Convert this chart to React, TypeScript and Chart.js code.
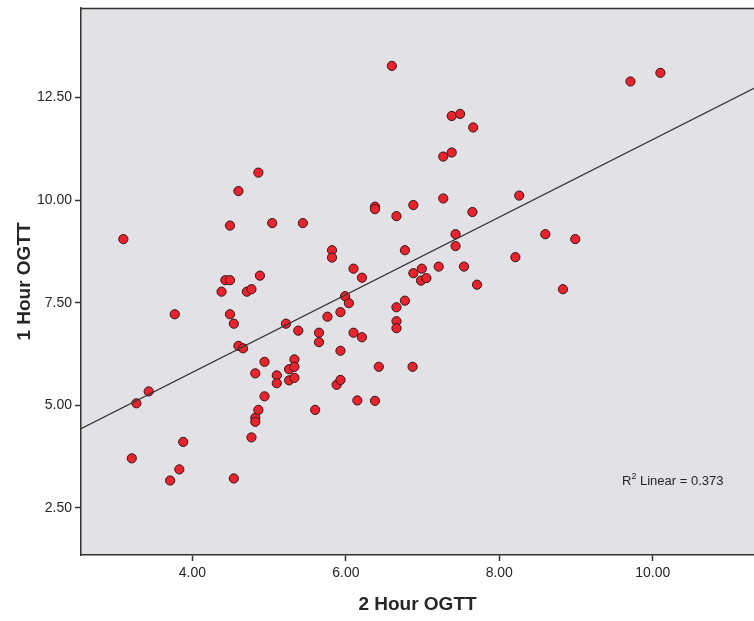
import React, { useEffect, useRef } from "react";
import { Chart, registerables } from "chart.js";

Chart.register(...registerables);

// 2 Hour OGTT (x) and 1 Hour OGTT (y), one entry per subject
const hour2 = [
  3.10, 3.21, 3.27, 3.43, 3.71, 3.83, 3.77, 3.88, 4.38, 4.43,
  4.49, 4.49, 4.49, 4.54, 4.54, 4.60, 4.60, 4.66, 4.71, 4.77,
  4.77, 4.82, 4.82, 4.82, 4.86, 4.86, 4.88, 4.94, 4.94, 5.04,
  5.10, 5.10, 5.22, 5.26, 5.26, 5.33, 5.33, 5.33, 5.38, 5.44,
  5.60, 5.65, 5.65, 5.76, 5.82, 5.82, 5.88, 5.93, 5.93, 5.93,
  5.99, 6.04, 6.10, 6.10, 6.15, 6.21, 6.21, 6.38, 6.38, 6.38,
  6.43, 6.60, 6.66, 6.66, 6.66, 6.66, 6.77, 6.77, 6.88, 6.88,
  6.87, 6.99, 6.98, 7.05, 7.21, 7.27, 7.27, 7.38, 7.49, 7.38,
  7.43, 7.43, 7.54, 7.66, 7.65, 7.71, 8.21, 8.26, 8.60, 8.83,
  8.99, 9.71, 10.10,
];
const hour1 = [
  9.05, 3.71, 5.05, 5.34, 3.17, 3.44, 7.22, 4.11, 7.77, 8.05,
  8.05, 9.38, 7.22, 6.99, 3.22, 10.22, 6.45, 6.39, 7.77, 7.83,
  4.22, 5.78, 4.70, 4.60, 4.89, 10.67, 8.16, 6.06, 5.22, 9.44,
  5.73, 5.54, 6.99, 5.88, 5.61, 6.12, 5.94, 5.67, 6.82, 9.44,
  4.89, 6.77, 6.54, 7.16, 8.78, 8.60, 5.50, 5.62, 7.27, 6.33,
  7.66, 7.49, 8.33, 6.77, 5.12, 8.11, 6.66, 9.84, 9.78, 5.11,
  5.94, 13.27, 9.61, 7.39, 7.05, 6.88, 8.78, 7.55, 9.88, 8.22,
  5.94, 8.33, 8.04, 8.10, 8.38, 11.06, 10.04, 12.05, 12.10, 11.16,
  9.17, 8.88, 8.38, 11.77, 9.71, 7.94, 8.61, 10.11, 9.17, 7.83,
  9.05, 12.89, 13.10,
];

const xTicks = [4, 6, 8, 10];
const yTicks = [2.5, 5, 7.5, 10, 12.5];
const xRange = [2.548, 11.32];
const yRange = [1.355, 14.68];

// Linear fit line
const fitIntercept = 2.025;
const fitSlope = 0.945;
const rSquared = "0.373";

const FONT = "Arial, 'Liberation Sans', sans-serif";
const TEXT = "#262626";
const AXIS = "#333333";

export default function App() {
  const ref = useRef<HTMLCanvasElement | null>(null);

  useEffect(() => {
    const canvas = ref.current;
    if (!canvas) return;

    const points = hour2.map((x, i) => ({ x, y: hour1[i] }));
    const fitLine = xRange.map((x) => ({ x, y: fitIntercept + fitSlope * x }));

    const framePlugin = {
      id: "frame",
      beforeDraw(chart: any) {
        const { ctx, chartArea } = chart;
        ctx.save();
        ctx.fillStyle = "#e1e1e6";
        ctx.fillRect(chartArea.left, chartArea.top, chartArea.right - chartArea.left, chartArea.bottom - chartArea.top);
        ctx.restore();
      },
      afterDraw(chart: any) {
        const { ctx, chartArea } = chart;
        ctx.save();
        ctx.strokeStyle = AXIS;
        ctx.lineWidth = 1.5;
        ctx.beginPath();
        ctx.moveTo(chartArea.left, chartArea.top + 0.5);
        ctx.lineTo(chartArea.right, chartArea.top + 0.5);
        ctx.stroke();
        // R² annotation
        ctx.fillStyle = TEXT;
        ctx.textBaseline = "alphabetic";
        ctx.textAlign = "left";
        let x = chartArea.right - 132;
        const y = chartArea.bottom - 70;
        ctx.font = `13px ${FONT}`;
        ctx.fillText("R", x, y);
        x += ctx.measureText("R").width;
        ctx.font = `9px ${FONT}`;
        ctx.fillText("2", x, y - 6);
        x += ctx.measureText("2").width;
        ctx.font = `13px ${FONT}`;
        ctx.fillText(` Linear = ${rSquared}`, x, y);
        ctx.restore();
      },
    };

    const chart = new Chart(canvas, {
      type: "scatter",
      data: {
        datasets: [
          {
            label: "Fit",
            data: fitLine,
            showLine: true,
            borderColor: "#333333",
            borderWidth: 1.2,
            pointRadius: 0,
            fill: false,
          } as any,
          {
            label: "1 Hour OGTT",
            data: points,
            pointRadius: 4.6,
            pointBackgroundColor: "#e8232d",
            pointBorderColor: "#3b1414",
            pointBorderWidth: 1,
          },
        ],
      },
      options: {
        responsive: false,
        animation: false,
        layout: { autoPadding: false, padding: { top: 8, right: 0, bottom: 0, left: 0 } },
        plugins: {
          legend: { display: false },
          tooltip: { enabled: false },
        },
        scales: {
          x: {
            type: "linear",
            min: xRange[0],
            max: xRange[1],
            afterBuildTicks: (scale: any) => {
              scale.ticks = xTicks.map((v) => ({ value: v }));
            },
            afterFit: (scale: any) => {
              scale.height = 66;
              scale.paddingLeft = 0;
              scale.paddingRight = 0;
            },
            grid: {
              display: true,
              drawOnChartArea: false,
              drawTicks: true,
              tickLength: 6,
              tickColor: AXIS,
              tickWidth: 1.5,
            },
            border: { display: true, color: AXIS, width: 1.5 },
            ticks: {
              color: TEXT,
              font: { family: FONT, size: 14 },
              padding: 4,
              maxRotation: 0,
              callback: (v: any) => Number(v).toFixed(2),
            },
            title: {
              display: true,
              text: "2 Hour OGTT",
              color: TEXT,
              font: { family: FONT, size: 19, weight: "bold" },
              padding: { top: 0, bottom: 5 },
            },
          },
          y: {
            type: "linear",
            min: yRange[0],
            max: yRange[1],
            afterBuildTicks: (scale: any) => {
              scale.ticks = yTicks.map((v) => ({ value: v }));
            },
            afterFit: (scale: any) => {
              scale.width = 81;
              scale.paddingTop = 0;
              scale.paddingBottom = 0;
            },
            grid: {
              display: true,
              drawOnChartArea: false,
              drawTicks: true,
              tickLength: 6,
              tickColor: AXIS,
              tickWidth: 1.5,
            },
            border: { display: true, color: AXIS, width: 1.5 },
            ticks: {
              color: TEXT,
              font: { family: FONT, size: 14 },
              padding: 3,
              callback: (v: any) => Number(v).toFixed(2),
            },
            title: {
              display: true,
              text: "1 Hour OGTT",
              color: TEXT,
              font: { family: FONT, size: 19, weight: "bold" },
              padding: { top: 13, bottom: 0 },
            },
          },
        },
      },
      plugins: [framePlugin],
    } as any);

    return () => chart.destroy();
  }, []);

  return (
    <div style={{ position: "fixed", left: 0, top: 0, width: 754, height: 621, background: "#ffffff", overflow: "hidden" }}>
      <canvas ref={ref} width={754} height={621} style={{ display: "block" }} />
    </div>
  );
}
